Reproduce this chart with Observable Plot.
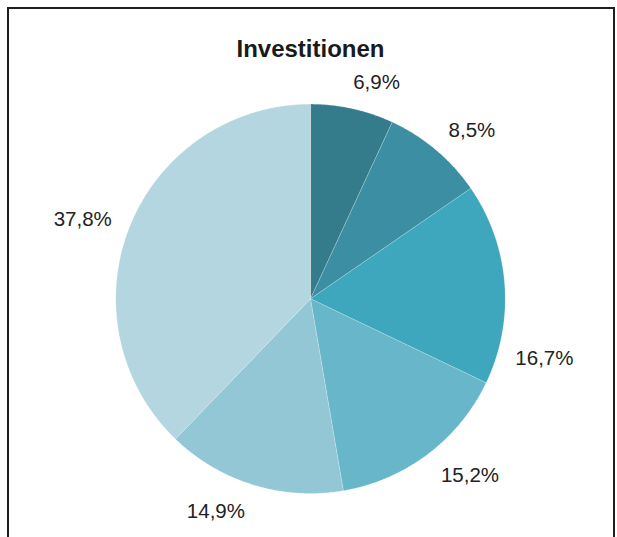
<!DOCTYPE html>
<html>
<head>
<meta charset="utf-8">
<script src="https://cdn.jsdelivr.net/npm/d3@7"></script>
<script src="https://cdn.jsdelivr.net/npm/@observablehq/plot@0.6"></script>
<style>
  html, body { margin: 0; padding: 0; background: #fff; }
  #wrap { position: relative; width: 617px; height: 537px; overflow: hidden; }
  #border { position: absolute; left: 7px; top: 7px; width: 604px; height: 560px;
            border-left: 2px solid #1e1e1e; border-top: 2px solid #1e1e1e; border-right: 2px solid #1e1e1e; }
  #chart { position: absolute; left: 0; top: 0; }
</style>
</head>
<body>
<div id="wrap"><div id="border"></div><div id="chart"></div></div>
<script>
// ---- data ----
const title = "Investitionen";
const values = [6.9, 8.5, 16.7, 15.2, 14.9, 37.8];
const labels = ["6,9%", "8,5%", "16,7%", "15,2%", "14,9%", "37,8%"];
const palette = ["#347c8c", "#3c8fa3", "#3ea6bd", "#67b6c9", "#93c7d5", "#b4d6e0"];

// ---- layout ----
const W = 617, H = 537, cx = 310, cy = 298.3, R = 194.7;
const labelShiftDeg = [4.5, 3.5, 18.7, -5.1, 7, -2.6];
const fontSize = 20.5;

const arcs = d3.pie().sort(null).value(d => d)(values);

// slice polygons in radius units (y up)
const pts = [];
arcs.forEach((a, i) => {
  pts.push({slice: i, color: palette[i], x: 0, y: 0});
  const n = Math.max(2, Math.ceil((a.endAngle - a.startAngle) / (Math.PI / 360)));
  for (let k = 0; k <= n; k++) {
    const t = a.startAngle + (a.endAngle - a.startAngle) * k / n;
    pts.push({slice: i, color: palette[i], x: Math.sin(t), y: Math.cos(t)});
  }
  pts.push({slice: i, color: palette[i], x: 0, y: 0});
});

const labelData = arcs.map((a, i) => {
  const t = (a.startAngle + a.endAngle) / 2 + labelShiftDeg[i] * Math.PI / 180;
  const hw = labels[i].length * 5.8, hh = 10;
  const r = (R + 16 + Math.abs(Math.sin(t)) * hw + Math.abs(Math.cos(t)) * hh) / R;
  return {text: labels[i], x: r * Math.sin(t), y: r * Math.cos(t) - 0.8 / R};
});

const chart = Plot.plot({
  width: W, height: H, margin: 0,
  style: {background: "transparent", fontFamily: "'Liberation Sans', Arial, sans-serif"},
  x: {domain: [-cx / R, (W - cx) / R], axis: null},
  y: {domain: [-(H - cy) / R, cy / R], axis: null},
  color: {type: "identity"},
  marks: [
    Plot.line(pts, {x: "x", y: "y", z: "slice", fill: "color", stroke: "white", strokeWidth: 0.25, strokeOpacity: 0.8, curve: "linear"}),
    Plot.text(labelData, {x: "x", y: "y", text: "text", fontSize: fontSize, fill: "#222", textAnchor: "middle", lineAnchor: "middle"}),
    Plot.text([title], {x: [0], y: [(cy - 49.2) / R], text: d => d, fontSize: 24, fontWeight: "bold", fill: "#1a1a1a", textAnchor: "middle", lineAnchor: "middle"})
  ]
});
document.getElementById("chart").appendChild(chart);
</script>
</body>
</html>
